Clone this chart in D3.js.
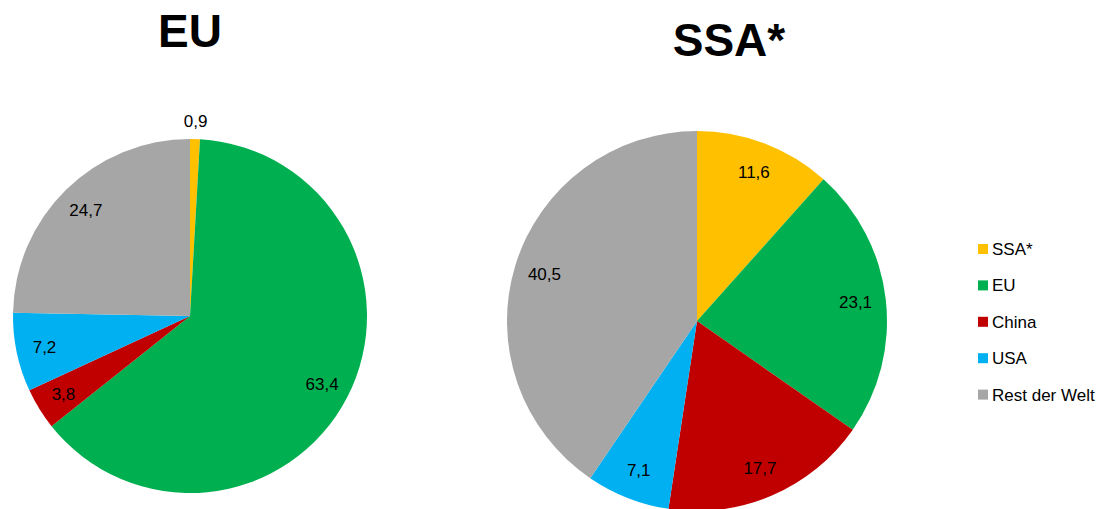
<!DOCTYPE html>
<html>
<head>
<meta charset="utf-8">
<script src="https://cdn.jsdelivr.net/npm/d3@7"></script>
<style>
  body { margin: 0; background: #fff; }
  svg text { font-family: "Liberation Sans", Arial, sans-serif; fill: #000; }
</style>
</head>
<body>
<svg id="chart" width="1110" height="509"></svg>
<script>
// Categories and shares (%)
const categories = ['SSA*', 'EU', 'China', 'USA', 'Rest der Welt'];
const colors = ['#FFC000', '#00B050', '#C00000', '#00B0F0', '#A6A6A6'];
const euValues = [0.9, 63.4, 3.8, 7.2, 24.7];
const ssaValues = [11.6, 23.1, 17.7, 7.1, 40.5];
const titles = ['EU', 'SSA*'];

const svg = d3.select('#chart');

const colorScale = d3.scaleOrdinal()
    .domain(categories)
    .range(colors);

const pie = d3.pie()
    .sort(null)
    .value(d => d.value);

const fmt = v => String(v).replace('.', ',');

function drawPie(values, title, cfg) {
    const data = categories.map((c, i) => ({ key: c, value: values[i] }));
    const arc = d3.arc().innerRadius(0).outerRadius(cfg.r);
    const labelArc = d3.arc().innerRadius(cfg.r * 0.84).outerRadius(cfg.r * 0.84);
    const outerArc = d3.arc().innerRadius(cfg.r + 18).outerRadius(cfg.r + 18);

    const g = svg.append('g')
        .attr('transform', `translate(${cfg.cx},${cfg.cy})`);

    const arcs = pie(data);

    g.selectAll('.slice')
        .data(arcs)
      .join('path')
        .attr('class', 'slice')
        .attr('d', arc)
        .attr('fill', d => colorScale(d.data.key));

    // small slices get their label outside the pie
    g.selectAll('.label')
        .data(arcs)
      .join('text')
        .attr('class', 'label')
        .attr('transform', d => {
            const small = (d.endAngle - d.startAngle) < 0.1;
            return `translate(${(small ? outerArc : labelArc).centroid(d)})`;
        })
        .attr('text-anchor', 'middle')
        .attr('dy', '0.35em')
        .style('font-size', '17px')
        .text(d => fmt(d.data.value));

    svg.append('text')
        .attr('x', cfg.tx)
        .attr('y', cfg.ty)
        .attr('text-anchor', 'middle')
        .style('font-size', '46px')
        .style('font-weight', 'bold')
        .text(title);
}

drawPie(euValues, titles[0], { cx: 190, cy: 316, r: 177, tx: 190, ty: 47 });
drawPie(ssaValues, titles[1], { cx: 697, cy: 321, r: 190, tx: 729, ty: 56 });

// Legend
const legend = svg.append('g')
    .attr('transform', 'translate(978,244)');

const item = legend.selectAll('.item')
    .data(categories)
  .join('g')
    .attr('class', 'item')
    .attr('transform', (d, i) => `translate(0,${i * 36.4})`);

item.append('rect')
    .attr('width', 10)
    .attr('height', 10)
    .attr('fill', d => colorScale(d));

item.append('text')
    .attr('x', 14)
    .attr('y', 11)
    .style('font-size', '17px')
    .text(d => d);
</script>
</body>
</html>
